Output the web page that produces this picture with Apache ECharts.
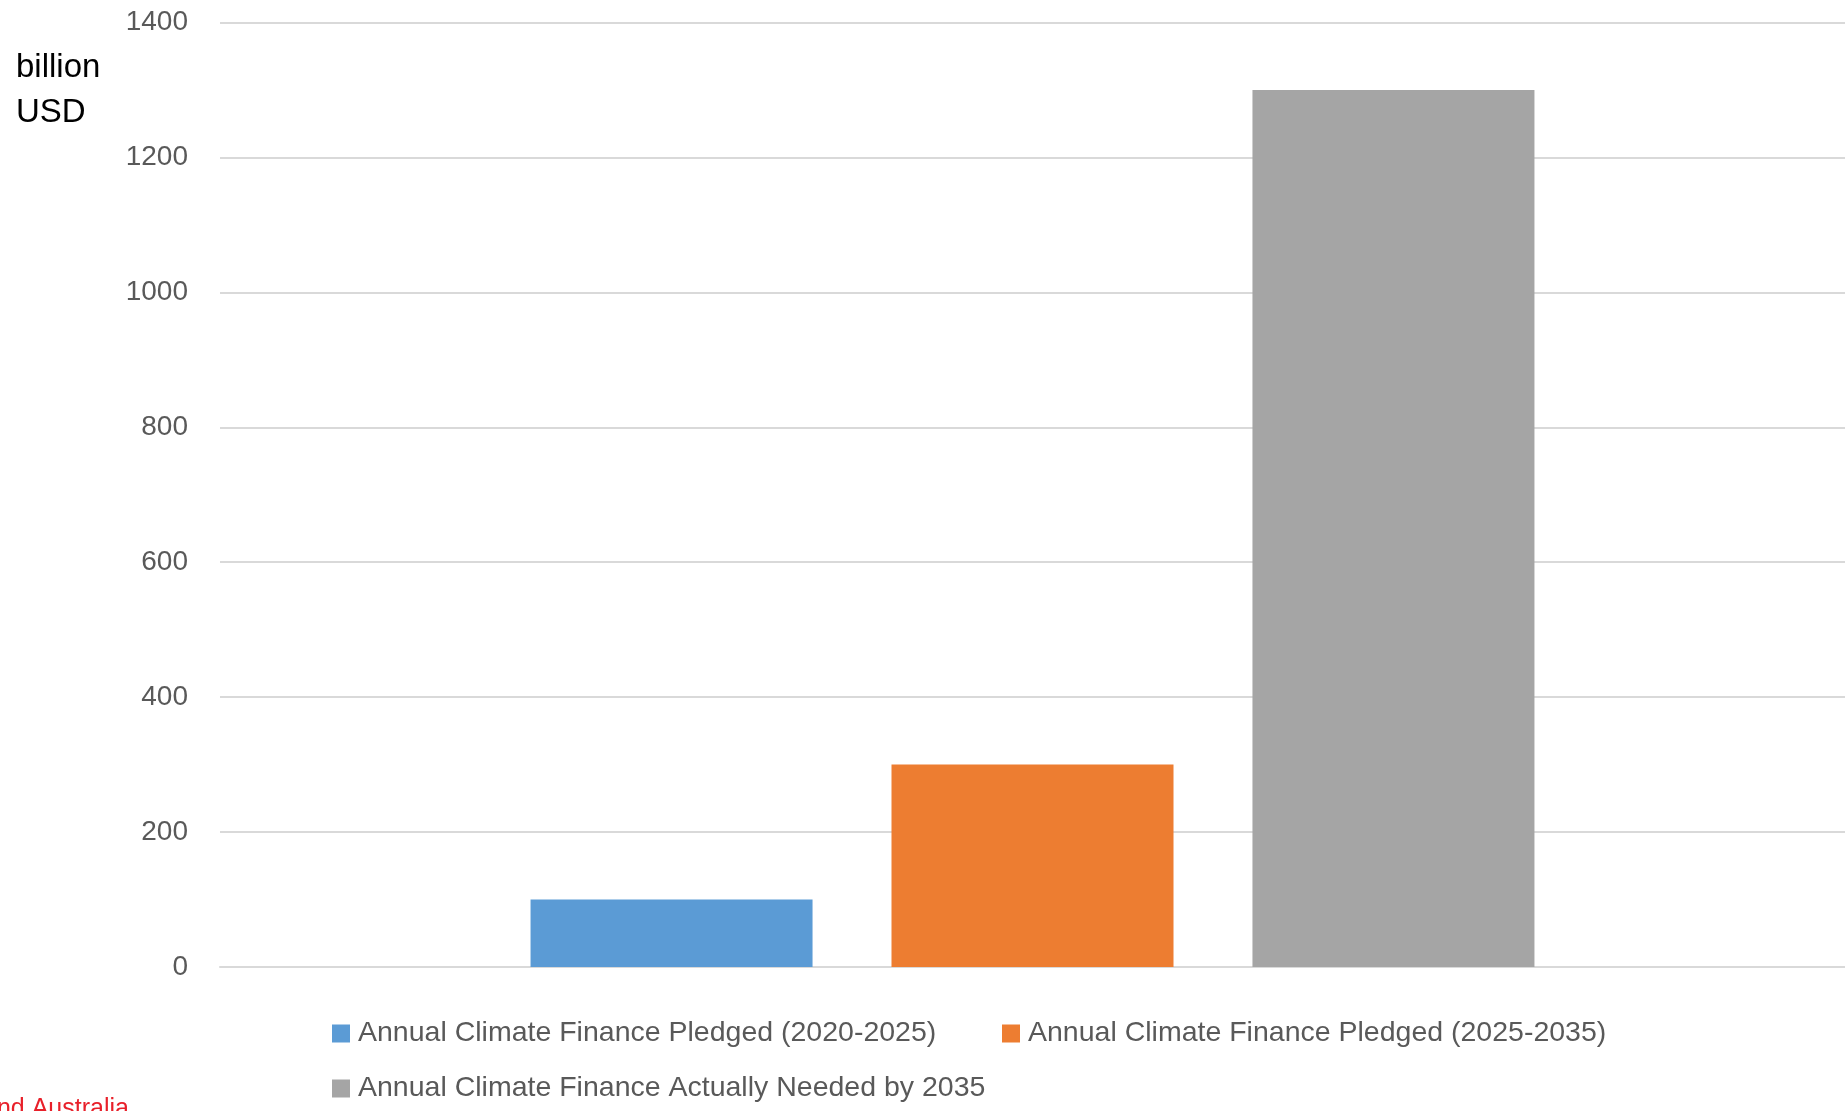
<!DOCTYPE html>
<html>
<head>
<meta charset="utf-8">
<script src="https://cdn.jsdelivr.net/npm/echarts@6/dist/echarts.min.js"></script>
<style>
html,body{margin:0;padding:0;background:#fff;}
#chart{width:1845px;height:1111px;}
</style>
</head>
<body>
<div id="chart"></div>
<script>
const categories = [''];
const seriesNames = [
  'Annual Climate Finance Pledged (2020-2025)',
  'Annual Climate Finance Pledged (2025-2035)',
  'Annual Climate Finance Actually Needed by 2035'
];
const seriesValues = [[100], [300], [1300]];
const seriesColors = ['#5B9BD5', '#ED7D31', '#A5A5A5'];
const yMin = 0, yMax = 1400, yInterval = 200;

const chart = echarts.init(document.getElementById('chart'));
const FONT = '"Liberation Sans", Arial, sans-serif';

const legendPos = [
  {left: 332, top: 1019},
  {left: 1002, top: 1019},
  {left: 332, top: 1074}
];

const option = {
  animation: false,
  backgroundColor: '#ffffff',
  textStyle: {fontFamily: FONT},
  grid: {left: 220, right: 0, top: 22.5, bottom: 144, containLabel: false},
  xAxis: {
    type: 'category',
    data: categories,
    axisLine: {show: true, lineStyle: {color: '#d9d9d9', width: 2}},
    axisTick: {show: false},
    axisLabel: {show: false}
  },
  yAxis: {
    type: 'value',
    min: yMin, max: yMax, interval: yInterval,
    axisLine: {show: false},
    axisTick: {show: false},
    axisLabel: {color: '#595959', fontSize: 28, margin: 32, fontFamily: FONT, formatter: v => String(v)},
    splitLine: {lineStyle: {color: '#d9d9d9', width: 2}}
  },
  legend: seriesNames.map((n, i) => ({
    data: [n],
    left: legendPos[i].left,
    top: legendPos[i].top,
    padding: 0,
    icon: 'rect',
    itemWidth: 18,
    itemHeight: 18,
    itemGap: 0,
    selectedMode: false,
    textStyle: {color: '#595959', fontSize: 28.5, fontFamily: FONT, padding: [0, 0, 0, 3]}
  })),
  series: seriesNames.map((n, i) => ({
    name: n,
    type: 'bar',
    data: seriesValues[i],
    barWidth: 282,
    barGap: '28%',
    itemStyle: {color: seriesColors[i]},
    emphasis: {disabled: true}
  })),
  graphic: [
    {type: 'text', left: 16, top: 45, style: {text: 'billion\nUSD', fill: '#000', font: '33px ' + FONT, lineHeight: 45}},
    {type: 'text', x: -17, y: 1097, style: {text: 'and Australia', fill: '#e8202a', font: '25px ' + FONT, verticalAlign: 'top'}}
  ]
};
chart.setOption(option);
</script>
</body>
</html>
